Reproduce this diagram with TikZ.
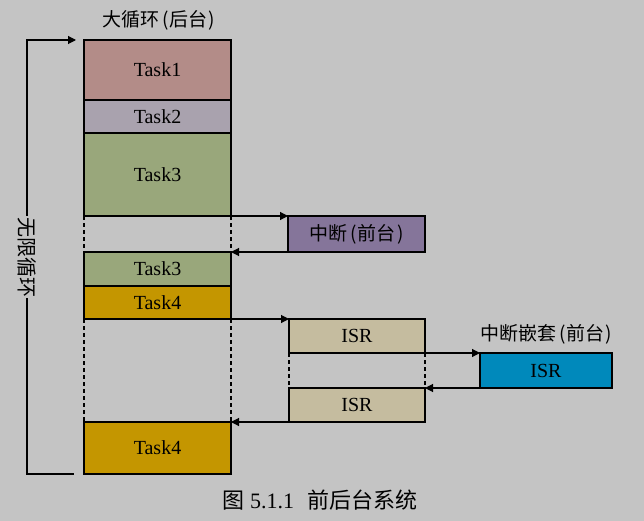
\documentclass[tikz,border=0pt]{standalone}
\usepackage{fontspec}
\setmainfont{Liberation Serif}
\newfontfamily\cjk{Noto Sans CJK SC}
\usepackage{xcolor}
\usetikzlibrary{shapes,arrows,positioning,calc,arrows.meta}

\definecolor{bggray}{HTML}{C4C4C4}
\definecolor{taskone}{HTML}{B38C88}
\definecolor{tasktwo}{HTML}{A9A2AE}
\definecolor{taskthree}{HTML}{99A77B}
\definecolor{taskfour}{HTML}{C49600}
\definecolor{irqpurple}{HTML}{85759A}
\definecolor{isrtan}{HTML}{C5BC9F}
\definecolor{nestblue}{HTML}{0089BB}

\newcommand{\lpar}{\kern3pt(\kern1pt}
\newcommand{\rpar}{\kern1pt)}

\begin{document}
\begin{tikzpicture}[x=1pt,y=-1pt,
    box/.style={draw, line width=1.1pt, inner sep=0pt, outer sep=0pt, anchor=north west,
        minimum width=147pt, font=\fontsize{20}{20}\selectfont},
    isrbox/.style={box, minimum width=136pt},
    arr/.style={line width=1.1pt, -{Triangle[length=8pt,width=8pt]}},
    gap/.style={line width=1.1pt, dashed, dash pattern=on 4pt off 3pt},
    cn/.style={font=\cjk\fontsize{19}{19}\selectfont, inner sep=1pt}]
    \useasboundingbox[fill=bggray] (0,0) rectangle (644,521);

    % big loop (background)
    \node[box, fill=taskone, minimum height=60pt] (t1) at (84,40) {Task1};
    \node[box, fill=tasktwo, minimum height=33pt] (t2) at (84,100) {Task2};
    \node[box, fill=taskthree, minimum height=83pt] (t3) at (84,133) {Task3};
    \node[box, fill=taskthree, minimum height=34pt] (t3b) at (84,252) {Task3};
    \node[box, fill=taskfour, minimum height=33pt] (t4) at (84,286) {Task4};
    \node[box, fill=taskfour, minimum height=52pt] (t4b) at (84,422) {Task4};
    \node[cn] (title) at (159,20) {大循环\lpar 后台\rpar};

    % interrupts (foreground)
    \node[box, fill=irqpurple, minimum width=137pt, minimum height=36pt, font=\cjk\fontsize{19}{19}\selectfont] (irq) at (288,216) {中断\lpar 前台\rpar};
    \node[isrbox, fill=isrtan, minimum height=34pt] (isr1) at (289,319) {ISR};
    \node[isrbox, fill=isrtan, minimum height=34pt] (isr2) at (289,388) {ISR};
    \node[box, fill=nestblue, minimum width=132pt, minimum height=35pt] (nest) at (480,353) {ISR};
    \node[cn] (nestlbl) at (546,334) {中断嵌套\lpar 前台\rpar};

    % suspended parts
    \draw[gap] (t3.south west) -- (t3b.north west);
    \draw[gap] (t3.south east) -- (t3b.north east);
    \draw[gap] (t4.south west) -- (t4b.north west);
    \draw[gap] (t4.south east) -- (t4b.north east);
    \draw[gap] (isr1.south west) -- (isr2.north west);
    \draw[gap] (isr1.south east) -- (isr2.north east);

    % enter / return
    \draw[arr] (t3.south east) -- (irq.north west);
    \draw[arr] (irq.south west) -- (t3b.north east);
    \draw[arr] (t4.south east) -- (isr1.north west);
    \draw[arr] (isr1.south east) -- (nest.north west);
    \draw[arr] (nest.south west) -- (isr2.north east);
    \draw[arr] (isr2.south west) -- (t4b.north east);

    % endless loop
    \coordinate (ltop) at (27,40);
    \coordinate (lbot) at (27,474);
    \coordinate (lin) at (76,40);
    \coordinate (lout) at (74,474);
    \node[font=\cjk\fontsize{20}{20}\selectfont, rotate=-90, inner sep=1pt] (loop) at (27,257) {无限循环};
    \draw[arr] (loop) -- (ltop) -- (lin);
    \draw[line width=1.1pt] (loop) -- (lbot) -- (lout);

    \node[inner sep=0pt, font=\fontsize{22}{22}\selectfont] (cap) at (320,500) {{\cjk 图} 5.1.1\hspace{0.6em}{\cjk 前后台系统}};
\end{tikzpicture}
\end{document}
